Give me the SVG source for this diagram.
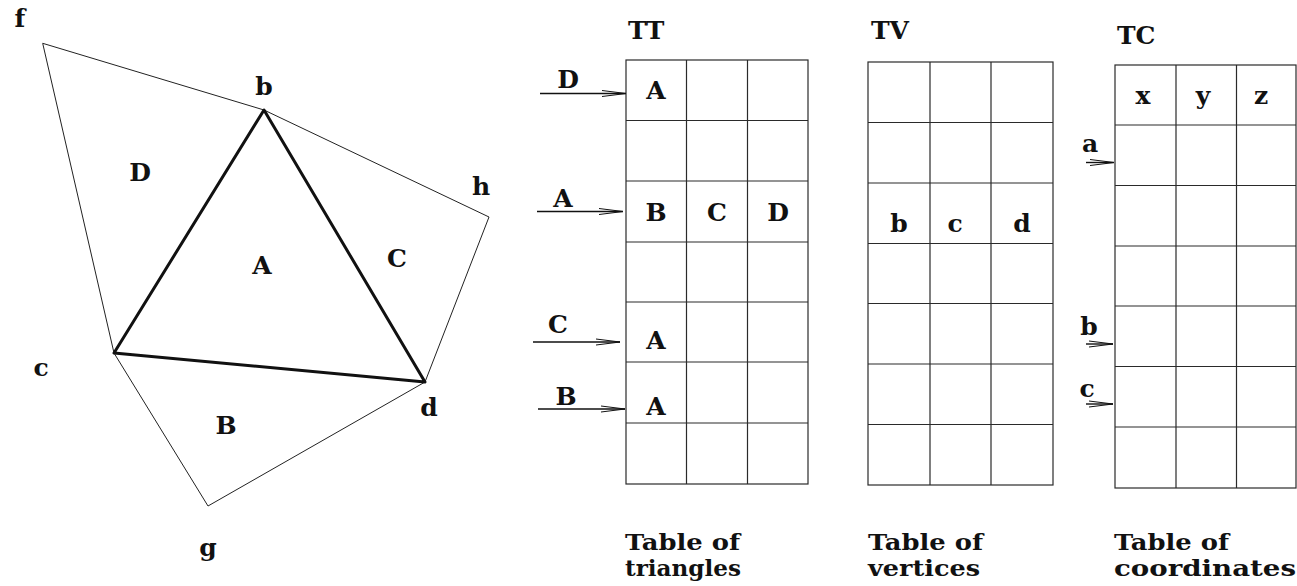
<svg xmlns="http://www.w3.org/2000/svg" width="1297" height="586" viewBox="0 0 1297 586">
  <style>
    .lbl { font-family: "DejaVu Serif", "Liberation Serif", serif; font-weight: bold; font-size: 25px; fill: #111; }
    .cap { font-family: "DejaVu Serif", "Liberation Serif", serif; font-weight: bold; font-size: 22px; fill: #111; }
    .mid { text-anchor: middle; }
    .thin { fill: none; stroke: #222; stroke-width: 1; }
    .thick { fill: none; stroke: #111; stroke-width: 3; stroke-linejoin: round; }
    .grid { fill: none; stroke: #2a2a2a; stroke-width: 1.2; }
    .ptr { fill: none; stroke: #111; stroke-width: 1.4; marker-end: url(#head); }
  </style>
  <defs>
    <marker id="head" markerUnits="userSpaceOnUse" viewBox="0 0 24 8" refX="24" refY="4" markerWidth="24" markerHeight="8" orient="auto">
      <path d="M0,1 L24,4 L0,7" fill="none" stroke="#111" stroke-width="1"/>
    </marker>
  </defs>
  <rect width="1297" height="586" fill="#fff"/>

  <!-- triangulation -->
  <g id="mesh">
    <polyline class="thin" points="114,353 42.7,43.3 264,110 489,217 425,382 208,506 114,353"/>
    <polygon class="thick" points="264,110 114,353 425,382"/>
  </g>
  <g id="mesh-labels">
    <text class="lbl mid" x="20" y="27">f</text>
    <text class="lbl mid" x="264" y="95">b</text>
    <text class="lbl mid" x="481" y="195">h</text>
    <text class="lbl mid" x="41" y="376">c</text>
    <text class="lbl mid" x="429" y="416">d</text>
    <text class="lbl mid" x="208" y="556">g</text>
    <text class="lbl mid" x="140" y="181">D</text>
    <text class="lbl mid" x="262" y="274">A</text>
    <text class="lbl mid" x="397" y="267">C</text>
    <text class="lbl mid" x="226" y="434">B</text>
  </g>

  <!-- table of triangles -->
  <g id="TT">
    <text class="lbl" x="628" y="39">TT</text>
    <rect class="grid" x="626" y="60" width="182" height="424"/>
    <path class="grid" d="M686.5,60V484 M747.5,60V484 M626,120.5H808 M626,181H808 M626,242H808 M626,302H808 M626,362H808 M626,423H808"/>
    <text class="lbl mid" x="656" y="99">A</text>
    <text class="lbl mid" x="656" y="221">B</text>
    <text class="lbl mid" x="717" y="221">C</text>
    <text class="lbl mid" x="778" y="221">D</text>
    <text class="lbl mid" x="656" y="349">A</text>
    <text class="lbl mid" x="656" y="415">A</text>
    <text class="cap" x="625" y="550" textLength="115" lengthAdjust="spacingAndGlyphs">Table of</text>
    <text class="cap" x="625" y="576" textLength="116" lengthAdjust="spacingAndGlyphs">triangles</text>
  </g>

  <!-- table of vertices -->
  <g id="TV">
    <text class="lbl" x="871" y="39">TV</text>
    <rect class="grid" x="868" y="62" width="185" height="423"/>
    <path class="grid" d="M930,62V485 M991,62V485 M868,122.5H1053 M868,183H1053 M868,243.5H1053 M868,303.5H1053 M868,364H1053 M868,424.5H1053"/>
    <text class="lbl mid" x="899" y="232">b</text>
    <text class="lbl mid" x="955" y="232">c</text>
    <text class="lbl mid" x="1022" y="232">d</text>
    <text class="cap" x="868" y="550" textLength="115" lengthAdjust="spacingAndGlyphs">Table of</text>
    <text class="cap" x="868" y="576" textLength="112" lengthAdjust="spacingAndGlyphs">vertices</text>
  </g>

  <!-- table of coordinates -->
  <g id="TC">
    <text class="lbl" x="1117" y="44">TC</text>
    <rect class="grid" x="1115" y="65" width="181" height="423"/>
    <path class="grid" d="M1176,65V488 M1236.5,65V488 M1115,125H1296 M1115,185.5H1296 M1115,246H1296 M1115,306H1296 M1115,366.5H1296 M1115,427H1296"/>
    <text class="lbl mid" x="1143" y="104">x</text>
    <text class="lbl mid" x="1203" y="104">y</text>
    <text class="lbl mid" x="1261" y="104">z</text>
    <text class="cap" x="1114" y="550" textLength="115" lengthAdjust="spacingAndGlyphs">Table of</text>
    <text class="cap" x="1114" y="576" textLength="182" lengthAdjust="spacingAndGlyphs">coordinates</text>
  </g>

  <!-- index pointers -->
  <g id="pointers">
    <line class="ptr" x1="540" y1="93.5" x2="626" y2="93.5"/>
    <line class="ptr" x1="537" y1="211.5" x2="623" y2="211.5"/>
    <line class="ptr" x1="533" y1="342" x2="620" y2="342"/>
    <line class="ptr" x1="538" y1="409" x2="625" y2="409"/>
    <line class="ptr" x1="1086" y1="162.5" x2="1114" y2="162.5"/>
    <line class="ptr" x1="1086" y1="344" x2="1113" y2="344"/>
    <line class="ptr" x1="1086" y1="404" x2="1113" y2="404"/>
    <text class="lbl mid" x="568" y="88">D</text>
    <text class="lbl mid" x="563" y="207">A</text>
    <text class="lbl mid" x="558" y="333">C</text>
    <text class="lbl mid" x="566" y="405">B</text>
    <text class="lbl mid" x="1090" y="152">a</text>
    <text class="lbl mid" x="1089" y="335">b</text>
    <text class="lbl mid" x="1087" y="397">c</text>
  </g>
</svg>
